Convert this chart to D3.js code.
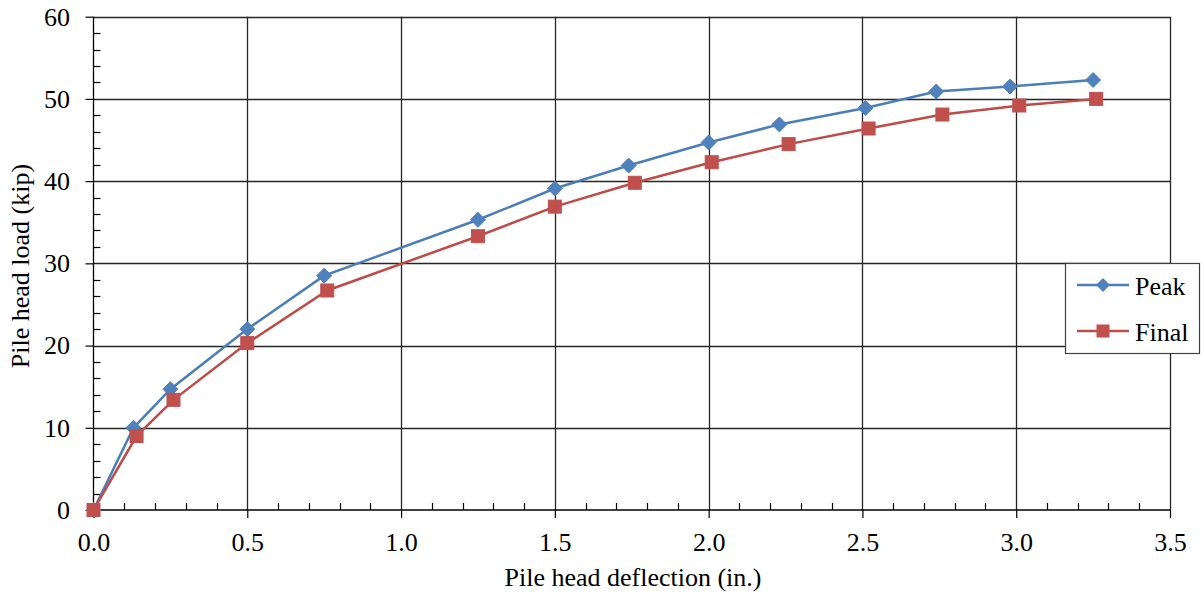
<!DOCTYPE html>
<html><head><meta charset="utf-8">
<script src="https://cdn.jsdelivr.net/npm/d3@7"></script>
<style>body{margin:0;background:#fff}svg{display:block}</style>
</head><body>
<svg id="c" width="1204" height="600"></svg>
<script>
const peakX = [0, 0.13, 0.25, 0.50, 0.75, 1.25, 1.50, 1.74, 2.00, 2.23, 2.51, 2.74, 2.98, 3.25];
const peakY = [0, 10.0, 14.7, 22.0, 28.5, 35.3, 39.1, 41.9, 44.7, 46.9, 48.9, 50.9, 51.5, 52.3];
const finalX = [0, 0.14, 0.26, 0.50, 0.76, 1.25, 1.50, 1.76, 2.01, 2.26, 2.52, 2.76, 3.01, 3.26];
const finalY = [0, 9.0, 13.4, 20.3, 26.7, 33.3, 36.9, 39.8, 42.3, 44.5, 46.4, 48.1, 49.2, 50.0];
const xTicks = [0, 0.5, 1.0, 1.5, 2.0, 2.5, 3.0, 3.5];
const yTicks = [0, 10, 20, 30, 40, 50, 60];
const seriesNames = ["Peak", "Final"];
const xTitle = "Pile head deflection (in.)";
const yTitle = "Pile head load (kip)";

const svg = d3.select("#c");
const L = 93.5, R = 1170, T = 16.7, B = 510;
const x = d3.scaleLinear().domain([0, 3.5]).range([L, R]);
const y = d3.scaleLinear().domain([0, 60]).range([B, T]);
const font = '"Liberation Serif"';
const gridC = "#262626";

// grid
svg.append("g").selectAll("line").data(yTicks.slice(1)).join("line")
  .attr("x1", L).attr("x2", R).attr("y1", d => Math.round(y(d)) + 0.5).attr("y2", d => Math.round(y(d)) + 0.5)
  .attr("stroke", gridC).attr("stroke-width", 1.3);
svg.append("g").selectAll("line").data(xTicks.slice(1)).join("line")
  .attr("y1", T).attr("y2", B).attr("x1", d => Math.round(x(d)) + 0.5).attr("x2", d => Math.round(x(d)) + 0.5)
  .attr("stroke", gridC).attr("stroke-width", 1.3);

// minor ticks
const yMinor = d3.range(0, 60.001, 2).filter(v => v % 10 !== 0);
const xMinor = d3.range(0, 3.5001, 0.1).map(v => +v.toFixed(1)).filter(v => Math.abs(v * 2 - Math.round(v * 2)) > 1e-6);
svg.append("g").selectAll("line").data(yMinor).join("line")
  .attr("x1", L).attr("x2", L + 7).attr("y1", d => Math.round(y(d)) + 0.5).attr("y2", d => Math.round(y(d)) + 0.5)
  .attr("stroke", "#000").attr("stroke-width", 1.2);
svg.append("g").selectAll("line").data(xMinor).join("line")
  .attr("y1", B).attr("y2", B - 7).attr("x1", d => Math.round(x(d)) + 0.5).attr("x2", d => Math.round(x(d)) + 0.5)
  .attr("stroke", "#000").attr("stroke-width", 1.2);

// axes
const yAxis = svg.append("g").attr("transform", `translate(${L},0)`)
  .call(d3.axisLeft(y).tickValues(yTicks).tickSize(8).tickPadding(15.5).tickFormat(d3.format("d")));
const xAxis = svg.append("g").attr("transform", `translate(0,${B})`)
  .call(d3.axisBottom(x).tickValues(xTicks).tickSize(8).tickPadding(15).tickFormat(d3.format(".1f")));
[yAxis, xAxis].forEach(a => {
  a.attr("font-family", font).attr("font-size", 26);
  a.selectAll("path.domain").attr("stroke", "#000").attr("stroke-width", 1.3);
  a.selectAll(".tick line").attr("stroke", "#000").attr("stroke-width", 1.2);
  a.selectAll("text").style("font-family", font).style("font-size", "26px").attr("fill", "#000");
});
yAxis.select("path.domain").attr("d", `M0,${B}V${T}`);
xAxis.select("path.domain").attr("d", `M${L},0H${R}`);

// titles
svg.append("text").attr("x", 633).attr("y", 586).attr("text-anchor", "middle")
  .style("font-family", font).style("font-size", "26px").text(xTitle);
svg.append("text").attr("transform", `translate(29,266) rotate(-90)`).attr("text-anchor", "middle")
  .style("font-family", font).style("font-size", "26px").text(yTitle);

// series
const colors = { line: ["#4A7EBB", "#BE4B48"], mark: ["#4F81BD", "#C0504D"] };
const peak = peakX.map((v, i) => [v, peakY[i]]);
const fin = finalX.map((v, i) => [v, finalY[i]]);
const line = d3.line().x(d => x(d[0])).y(d => y(d[1]));
svg.append("path").datum(peak).attr("d", line).attr("fill", "none").attr("stroke", colors.line[0]).attr("stroke-width", 2.5);
svg.append("path").datum(fin).attr("d", line).attr("fill", "none").attr("stroke", colors.line[1]).attr("stroke-width", 2.5);
const diamond = s => `M0,${-s}L${s},0L0,${s}L${-s},0Z`;
svg.append("g").selectAll("path").data(peak).join("path")
  .attr("transform", d => `translate(${x(d[0])},${y(d[1])})`).attr("d", diamond(7.5))
  .attr("fill", colors.mark[0]).attr("stroke", colors.mark[0]).attr("stroke-width", 1);
svg.append("g").selectAll("rect").data(fin).join("rect")
  .attr("x", d => x(d[0]) - 6.5).attr("y", d => y(d[1]) - 6.5).attr("width", 13).attr("height", 13)
  .attr("fill", colors.mark[1]).attr("stroke", colors.mark[1]).attr("stroke-width", 1);

// legend
const lg = svg.append("g");
lg.append("rect").attr("x", 1065.5).attr("y", 263.5).attr("width", 134).attr("height", 90)
  .attr("fill", "#fff").attr("stroke", "#404040").attr("stroke-width", 1.2);
seriesNames.forEach((n, i) => {
  const yy = 285 + i * 46;
  lg.append("line").attr("x1", 1077).attr("x2", 1129).attr("y1", yy).attr("y2", yy)
    .attr("stroke", colors.line[i]).attr("stroke-width", 2.5);
  if (i === 0) lg.append("path").attr("transform", `translate(1103,${yy})`).attr("d", diamond(7)).attr("fill", colors.mark[0]);
  else lg.append("rect").attr("x", 1103 - 6.5).attr("y", yy - 6.5).attr("width", 13).attr("height", 13).attr("fill", colors.mark[1]);
  lg.append("text").attr("x", 1135).attr("y", yy + 9.5).style("font-family", font).style("font-size", "26px").text(n);
});
</script>
</body></html>
